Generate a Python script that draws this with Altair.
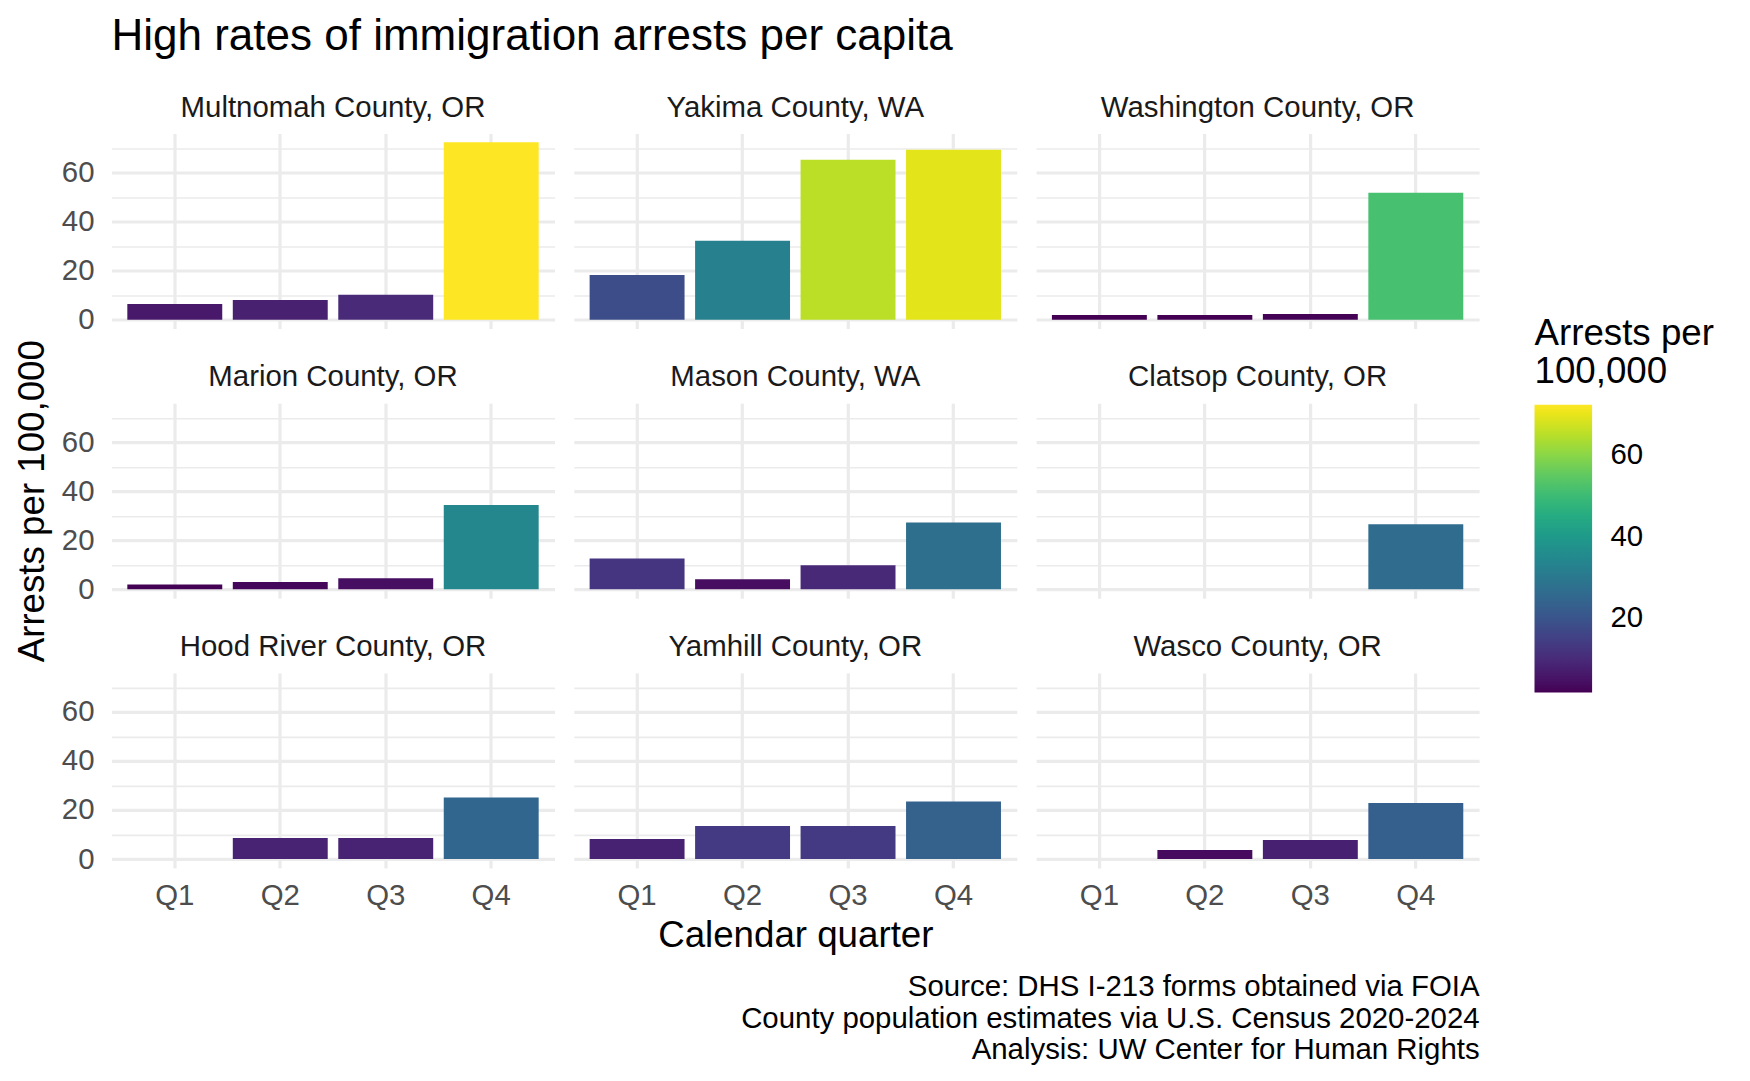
import altair as alt
import pandas as pd

# ---- data ----
counties = [
    "Multnomah County, OR", "Yakima County, WA", "Washington County, OR",
    "Marion County, OR", "Mason County, WA", "Clatsop County, OR",
    "Hood River County, OR", "Yamhill County, OR", "Wasco County, OR",
]
quarters = ["Q1", "Q2", "Q3", "Q4"]
q1_values = [6.4, 18.2, 1.9, 2.0, 12.6, None, None, 8.2, None]
q2_values = [8.0, 32.2, 1.9, 3.0, 4.1, None, 8.6, 13.5, 3.7]
q3_values = [10.1, 65.2, 2.3, 4.5, 9.8, None, 8.6, 13.5, 7.8]
q4_values = [72.3, 69.3, 51.7, 34.4, 27.3, 26.5, 25.1, 23.5, 22.9]

chart_title = "High rates of immigration arrests per capita"
x_title = "Calendar quarter"
y_title = "Arrests per 100,000"
legend_title = ["Arrests per", "100,000"]
caption_lines = [
    "Source: DHS I-213 forms obtained via FOIA",
    "County population estimates via U.S. Census 2020-2024",
    "Analysis: UW Center for Human Rights",
]
y_grid_values = [0, 10, 20, 30, 40, 50, 60, 70]
legend_values = [20, 40, 60]

rows = []
for county, a, b, c, d in zip(counties, q1_values, q2_values, q3_values, q4_values):
    for q, v in zip(quarters, [a, b, c, d]):
        if v is not None:
            rows.append({"county": county, "quarter": q, "value": v})
df = pd.DataFrame(rows)

vmin, vmax = float(df["value"].min()), float(df["value"].max())
y_domain = [-0.05 * vmax, 1.05 * vmax]

GRID = "#EBEBEB"
TICK = "#4D4D4D"
STRIP = "#1A1A1A"
FONT = "Liberation Sans"

W, H = 443, 195
SMALL = 29.4     # strip, tick, caption, legend labels
BIG = 36.7       # axis and legend titles
STRIP_OFFSET = 10.5


def make_cell(i, county):
    r, c = divmod(i, 3)
    bottom = r == 2
    left = c == 0

    xa = dict(grid=True, gridColor=GRID, gridWidth=3.2, ticks=False, tickSize=0,
              domain=False, bandPosition=0.5, labelAngle=0)
    if bottom:
        xa.update(labels=True, labelFontSize=SMALL, labelColor=TICK, labelPadding=14,
                  labelFont=FONT)
    else:
        xa.update(labels=False)
    if bottom and c == 1:
        xa.update(title=x_title, titleFontSize=BIG, titleFontWeight="normal",
                  titleColor="black", titlePadding=7.5, titleFont=FONT)
    elif bottom and c == 2:
        xa.update(title=caption_lines, titleFontSize=SMALL, titleFontWeight="normal",
                  titleColor="black", titlePadding=62.5, titleAnchor="end",
                  titleAlign="right", titleLineHeight=31.5, titleFont=FONT)
    else:
        xa.update(title=None)

    ya = dict(values=y_grid_values, grid=True, gridColor=GRID,
              gridWidth={"condition": {"test": "datum.value % 20 === 0", "value": 3.2},
                         "value": 1.6},
              ticks=False, tickSize=0, domain=False, minExtent=0)
    if left:
        ya.update(labels=True, labelFontSize=SMALL, labelColor=TICK, labelPadding=17.5,
                  labelFont=FONT,
                  labelExpr="datum.value % 20 === 0 ? datum.label : ''")
    else:
        ya.update(labels=False)
    strip_offset = STRIP_OFFSET
    if left and r == 1:
        ya.update(title=y_title, titleFontSize=BIG, titleFontWeight="normal",
                  titleColor="black", titlePadding=10.3, titleFont=FONT)
        # the rotated axis title reaches above this panel; keep the strip label level
        strip_offset = STRIP_OFFSET - 63.6
    else:
        ya.update(title=None)

    return (
        alt.Chart(df)
        .transform_filter(alt.FieldEqualPredicate(field="county", equal=county))
        .mark_bar()
        .encode(
            x=alt.X("quarter:N",
                    scale=alt.Scale(domain=quarters, paddingInner=0.1, paddingOuter=0.15),
                    axis=alt.Axis(**xa)),
            y=alt.Y("value:Q", scale=alt.Scale(domain=y_domain, nice=False, zero=False),
                    axis=alt.Axis(**ya)),
            y2=alt.datum(0),
            color=alt.Color(
                "value:Q",
                scale=alt.Scale(scheme="viridis", domain=[vmin, vmax]),
                legend=alt.Legend(
                    title=legend_title, orient="none", legendX=1423, legendY=182,
                    direction="vertical", gradientLength=287.6, gradientThickness=57.6,
                    gradientStrokeWidth=0, padding=0,
                    titleFontSize=BIG, titleFontWeight="normal", titleColor="black",
                    titleLineHeight=38.6, titlePadding=14, titleLimit=400, titleFont=FONT,
                    labelFontSize=SMALL, labelColor="black", labelOffset=18.3,
                    labelFont=FONT, values=legend_values,
                ),
            ),
        )
        .properties(
            width=W, height=H,
            title=alt.TitleParams(county, fontSize=SMALL, color=STRIP, fontWeight="normal",
                                  anchor="middle", offset=strip_offset, frame="group",
                                  font=FONT),
        )
    )


cells = [make_cell(i, cty) for i, cty in enumerate(counties)]

chart = (
    alt.concat(*cells, columns=3, spacing={"row": 74.7, "column": 19.3}, bounds="flush")
    .properties(
        title=alt.TitleParams(chart_title, anchor="start", frame="group", fontSize=44,
                              fontWeight="normal", color="black", offset=34.1, font=FONT),
        padding={"left": 5.5, "top": 6.5, "right": 5, "bottom": 5},
    )
    .resolve_scale(color="shared")
    .configure(font=FONT)
    .configure_view(stroke=None)
)

chart.save("out.html", embed_options={"renderer": "svg", "actions": False})
